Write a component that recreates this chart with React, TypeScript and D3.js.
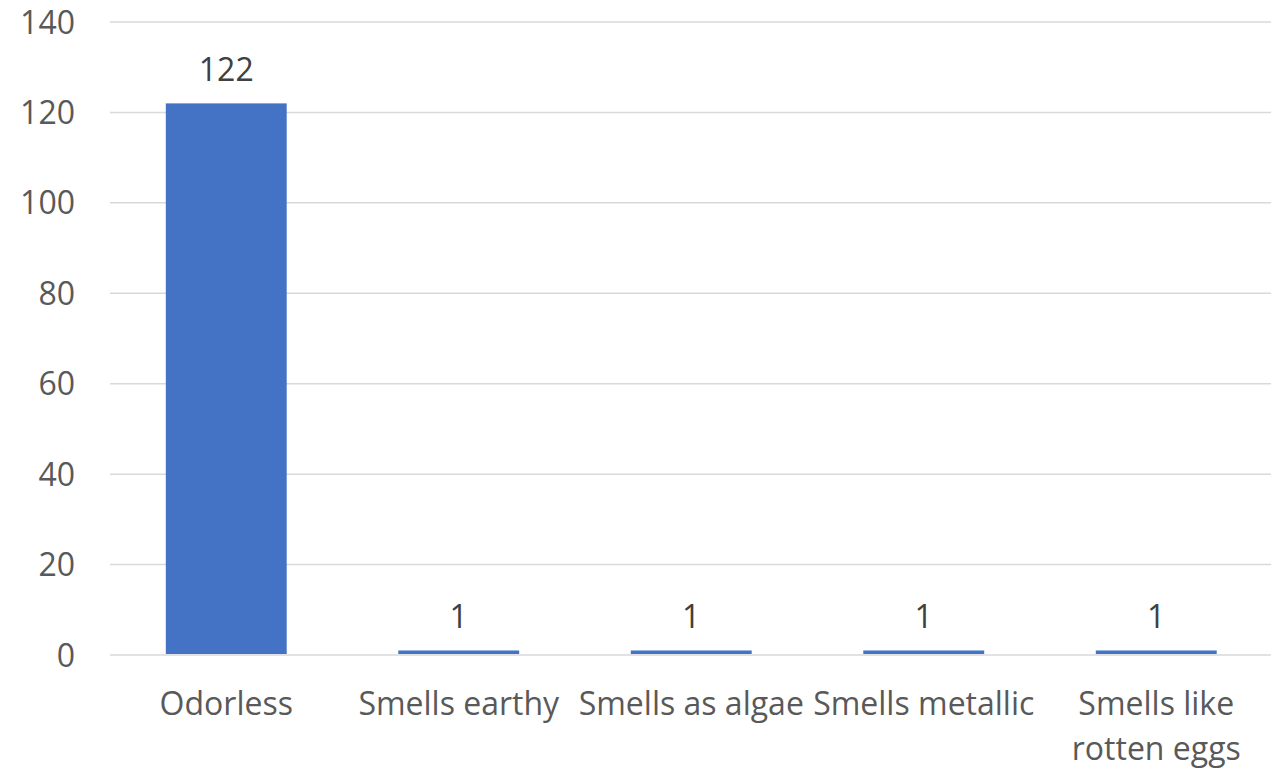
import React from "react";
import * as d3 from "d3";

const categories = ["Odorless", "Smells earthy", "Smells as algae", "Smells metallic", "Smells like rotten eggs"];
const values = [122, 1, 1, 1, 1];
const yTicks = [0, 20, 40, 60, 80, 100, 120, 140];

const W = 1271;
const H = 768;
const FONT = "'Open Sans', 'Noto Sans', sans-serif";
const FS = 32;

function wrap(label: string): string[] {
  if (label.length <= 16) return [label];
  const words = label.split(" ");
  const lines: string[] = [];
  let cur = "";
  for (const w of words) {
    const next = cur ? cur + " " + w : w;
    if (next.length > 12 && cur) {
      lines.push(cur);
      cur = w;
    } else cur = next;
  }
  if (cur) lines.push(cur);
  return lines;
}

export default function App() {
  const y = d3.scaleLinear().domain([0, 140]).range([655, 22]);
  const x = d3
    .scaleBand<string>()
    .domain(categories)
    .range([110, 1272.5])
    .paddingInner(0.48)
    .paddingOuter(0.24);
  const bw = x.bandwidth();

  return (
    <svg
      width={W}
      height={H}
      style={{ position: "absolute", left: 0, top: 0, background: "#fff" }}
      fontFamily={FONT}
    >
      {yTicks.map((t) => (
        <g key={t}>
          <line x1={110} x2={1272} y1={y(t)} y2={y(t)} stroke="#d9d9d9" strokeWidth={1.5} />
          <text x={75} y={y(t)} dy="0.36em" textAnchor="end" fontSize={FS} fill="#595959">
            {t}
          </text>
        </g>
      ))}
      {categories.map((c, i) => (
        <g key={c}>
          <rect x={x(c)!} y={y(values[i])} width={bw} height={y(0) - y(values[i]) - 1} fill="#4472C4" />
          <text x={x(c)! + bw / 2} y={y(values[i]) - 22} textAnchor="middle" fontSize={FS} fill="#404040">
            {values[i]}
          </text>
          {wrap(c).map((ln, j) => (
            <text
              key={j}
              x={x(c)! + bw / 2}
              y={715 + j * 45}
              textAnchor="middle"
              fontSize={FS}
              fill="#595959"
            >
              {ln}
            </text>
          ))}
        </g>
      ))}
    </svg>
  );
}
